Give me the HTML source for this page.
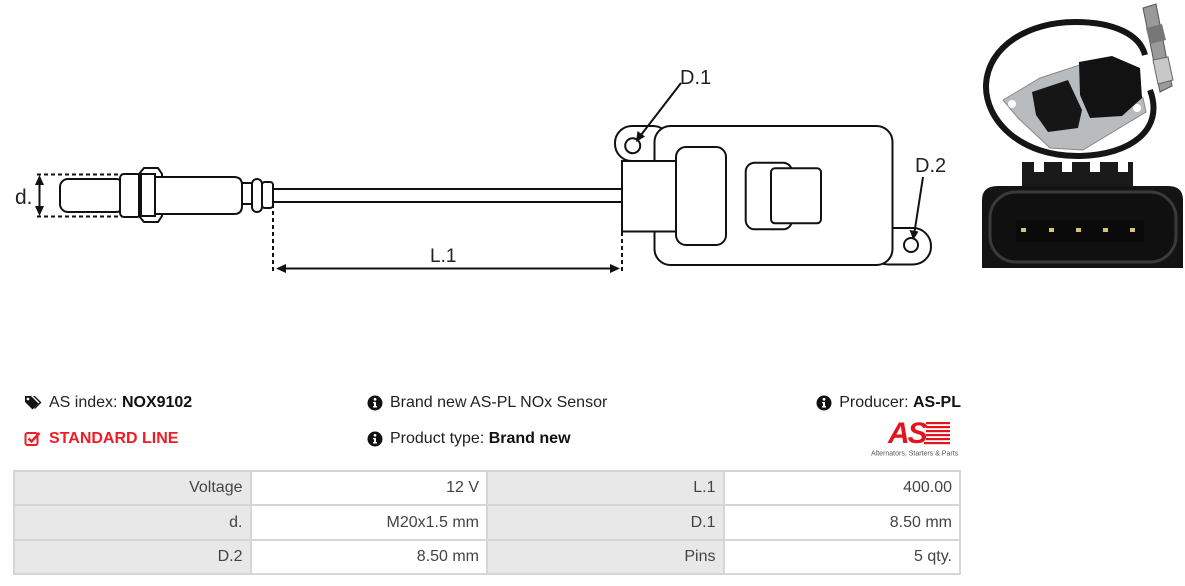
<!DOCTYPE html>
<html><head><meta charset="utf-8">
<style>
html,body{margin:0;padding:0;background:#fff;}
body{width:1185px;height:586px;position:relative;overflow:hidden;font-family:"Liberation Sans",Arial,sans-serif;}
.t{position:absolute;font-size:16px;line-height:18px;color:#222;white-space:nowrap;}
.t b{color:#111;}
table{position:absolute;left:13px;top:470px;width:948px;border-collapse:collapse;table-layout:fixed;}
tr{height:34.4px;}
td{border:2px solid #d6d6d6;height:32.4px;padding:0 7px 0 0;text-align:right;font-size:16px;color:#444;font-family:"Liberation Sans",Arial,sans-serif;box-sizing:border-box;}
td.l{background:#e8e8e8;}
td.v{background:#fff;}
</style></head><body>

<svg width="1185" height="300" style="position:absolute;left:0;top:0" xmlns="http://www.w3.org/2000/svg">
<g fill="#fff" stroke="#111" stroke-width="2">
  <!-- probe -->
  <rect x="60" y="179" width="64" height="33" rx="8"/>
  <rect x="120" y="174" width="21" height="43" rx="4"/>
  <polygon points="139,174 144,168 158,168 162,174 162,216 158,222 144,222 139,216"/>
  <rect x="141" y="174" width="14" height="42"/>
  <path d="M155,177 H234 Q242,177 242,185 V206 Q242,214 234,214 H155 Z"/>
  <rect x="242" y="183" width="10" height="21"/>
  <rect x="252" y="179" width="10" height="33" rx="5"/>
  <rect x="262" y="182" width="11" height="26" rx="3"/>
  <!-- cable -->
  <line x1="273" y1="189" x2="622" y2="189"/>
  <line x1="273" y1="202" x2="622" y2="202"/>
  <!-- ears -->
  <rect x="615" y="126" width="55" height="35" rx="17"/>
  <rect x="870" y="228" width="61" height="36.5" rx="18"/>
  <!-- body -->
  <rect x="654.5" y="126" width="238" height="139" rx="16"/>
  <circle cx="632.7" cy="145.7" r="7.5"/>
  <circle cx="911" cy="245" r="7"/>
  <rect x="622" y="161" width="54" height="70.5"/>
  <rect x="676" y="147" width="50" height="98" rx="10"/>
  <rect x="745.7" y="162.7" width="46.3" height="66.6" rx="9"/>
  <rect x="771" y="168.3" width="50" height="55" rx="4"/>
</g>
<!-- dotted dimension lines -->
<g stroke="#111" stroke-width="2" stroke-dasharray="4,3" fill="none">
  <line x1="37" y1="174.5" x2="122" y2="174.5"/>
  <line x1="37" y1="216.5" x2="122" y2="216.5"/>
  <line x1="273" y1="204" x2="273" y2="271"/>
  <line x1="622" y1="232" x2="622" y2="271"/>
</g>
<g stroke="#111" stroke-width="2" fill="#111">
  <line x1="39.5" y1="182" x2="39.5" y2="209"/>
  <polygon points="39.5,175 35,185 44,185" stroke="none"/>
  <polygon points="39.5,216 35,206 44,206" stroke="none"/>
  <line x1="284" y1="268.5" x2="612" y2="268.5"/>
  <polygon points="276,268.5 286,264 286,273" stroke="none"/>
  <polygon points="620,268.5 610,264 610,273" stroke="none"/>
  <line x1="681" y1="83" x2="641" y2="135"/>
  <polygon points="636,142 637.5,131 645,136.5" stroke="none"/>
  <line x1="923" y1="177" x2="914.5" y2="232"/>
  <polygon points="913.3,240 909.5,230 918.5,231.5" stroke="none"/>
</g>
<g font-family="Liberation Sans, Arial, sans-serif" fill="#222">
  <text x="15" y="204" font-size="21">d.</text>
  <text x="430" y="262" font-size="19">L.1</text>
  <text x="680" y="84" font-size="20">D.1</text>
  <text x="915" y="172" font-size="20">D.2</text>
</g>

<!-- product photo (upper) -->
<path d="M1150,90 C1165,130 1130,155 1080,156 C1020,157 985,120 986,85 C988,45 1030,22 1075,22 C1115,22 1140,35 1145,55" fill="none" stroke="#151515" stroke-width="6"/>
<polygon points="1143,8 1156,4 1172,86 1160,92" fill="#9a9a9a" stroke="#555" stroke-width="1"/>
<polygon points="1146,28 1162,24 1166,40 1150,44" fill="#777"/>
<polygon points="1153,60 1168,57 1173,80 1158,84" fill="#c8c8c8" stroke="#666" stroke-width="1"/>
<polygon points="1003,100 1040,78 1095,60 1143,98 1146,112 1083,150 1050,148 1018,118" fill="#b9bcbf" stroke="#888" stroke-width="1"/>
<circle cx="1012" cy="104" r="4" fill="#fff"/>
<circle cx="1137" cy="108" r="4" fill="#fff"/>
<polygon points="1032,92 1068,80 1082,110 1078,128 1048,132 1036,115" fill="#161616"/>
<polygon points="1079,62 1112,56 1140,68 1142,98 1122,116 1090,118 1080,95" fill="#121212"/>

<!-- connector photo (lower) -->
<rect x="1022" y="162" width="111" height="30" fill="#1a1a1a"/>
<rect x="1034" y="162" width="10" height="10" fill="#fff"/>
<rect x="1062" y="162" width="10" height="10" fill="#fff"/>
<rect x="1090" y="162" width="10" height="10" fill="#fff"/>
<rect x="1118" y="162" width="10" height="10" fill="#fff"/>
<path d="M982,200 Q982,186 998,186 H1168 Q1183,186 1183,200 V268 H982 Z" fill="#141414"/>
<rect x="990" y="192" width="186" height="70" rx="26" fill="#101010" stroke="#3a3a3a" stroke-width="3"/>
<rect x="1016" y="220" width="128" height="22" fill="#0a0a0a"/>
<g fill="#d9c37a">
  <rect x="1021" y="228" width="5" height="4"/>
  <rect x="1049" y="228" width="5" height="4"/>
  <rect x="1076" y="228" width="5" height="4"/>
  <rect x="1103" y="228" width="5" height="4"/>
  <rect x="1130" y="228" width="5" height="4"/>
</g>
</svg>

<!-- info rows -->
<svg style="position:absolute;left:24px;top:394px" width="18" height="18" viewBox="0 0 18 18">
  <path d="M1,2 L1,8 L8.5,15.5 L14.5,9.5 L7,2 Z" fill="#111"/>
  <circle cx="4" cy="5" r="1.4" fill="#fff"/>
  <path d="M9,2 L11,2 L17.5,8.5 L11,15 L10,14 L15.5,8.5 Z" fill="#111"/>
</svg>
<div class="t" style="left:49px;top:394px">AS index: <b>NOX9102</b></div>

<svg style="position:absolute;left:24px;top:430px" width="17" height="17" viewBox="0 0 17 17">
  <rect x="1.5" y="3" width="12" height="12" rx="2" fill="none" stroke="#ef1c24" stroke-width="2"/>
  <path d="M4.5,8.5 L7.5,11.5 L15.5,3" fill="none" stroke="#ef1c24" stroke-width="2.4"/>
</svg>
<div class="t" style="left:49px;top:430px;color:#ef1c24;font-weight:bold">STANDARD LINE</div>

<svg style="position:absolute;left:367px;top:395px" width="16" height="16" viewBox="0 0 16 16">
  <circle cx="8" cy="8" r="7.5" fill="#111"/><circle cx="8" cy="4.3" r="1.4" fill="#fff"/>
  <path d="M6,7 H9 V11 H10 V12.5 H6 V11 H7 V8.3 H6 Z" fill="#fff"/>
</svg>
<div class="t" style="left:390px;top:394px">Brand new AS-PL NOx Sensor</div>

<svg style="position:absolute;left:367px;top:431px" width="16" height="16" viewBox="0 0 16 16">
  <circle cx="8" cy="8" r="7.5" fill="#111"/><circle cx="8" cy="4.3" r="1.4" fill="#fff"/>
  <path d="M6,7 H9 V11 H10 V12.5 H6 V11 H7 V8.3 H6 Z" fill="#fff"/>
</svg>
<div class="t" style="left:390px;top:430px">Product type: <b>Brand new</b></div>

<svg style="position:absolute;left:816px;top:395px" width="16" height="16" viewBox="0 0 16 16">
  <circle cx="8" cy="8" r="7.5" fill="#111"/><circle cx="8" cy="4.3" r="1.4" fill="#fff"/>
  <path d="M6,7 H9 V11 H10 V12.5 H6 V11 H7 V8.3 H6 Z" fill="#fff"/>
</svg>
<div class="t" style="right:224px;top:394px;text-align:right">Producer: <b>AS-PL</b></div>

<!-- logo -->
<svg style="position:absolute;left:866px;top:416px" width="100" height="44" viewBox="0 0 100 44">
  <g fill="#e3141b">
    <rect x="60" y="6" width="24" height="2.2"/>
    <rect x="60" y="10" width="24" height="2.2"/>
    <rect x="60" y="14" width="24" height="2.2"/>
    <rect x="60" y="18" width="24" height="2.2"/>
    <rect x="60" y="22" width="24" height="2.2"/>
    <rect x="58" y="26" width="26" height="2.2"/>
  </g>
  <text x="22" y="27" font-family="Liberation Sans, Arial, sans-serif" font-size="30" font-weight="bold" font-style="italic" fill="#e3141b" letter-spacing="-2">AS</text>
  <text x="5" y="39.5" font-family="Liberation Sans, Arial, sans-serif" font-size="7" fill="#555">Alternators, Starters &amp; Parts</text>
</svg>

<table>
<tr><td class="l">Voltage</td><td class="v">12 V</td><td class="l">L.1</td><td class="v">400.00</td></tr>
<tr><td class="l">d.</td><td class="v">M20x1.5 mm</td><td class="l">D.1</td><td class="v">8.50 mm</td></tr>
<tr><td class="l">D.2</td><td class="v">8.50 mm</td><td class="l">Pins</td><td class="v">5 qty.</td></tr>
</table>

</body></html>
